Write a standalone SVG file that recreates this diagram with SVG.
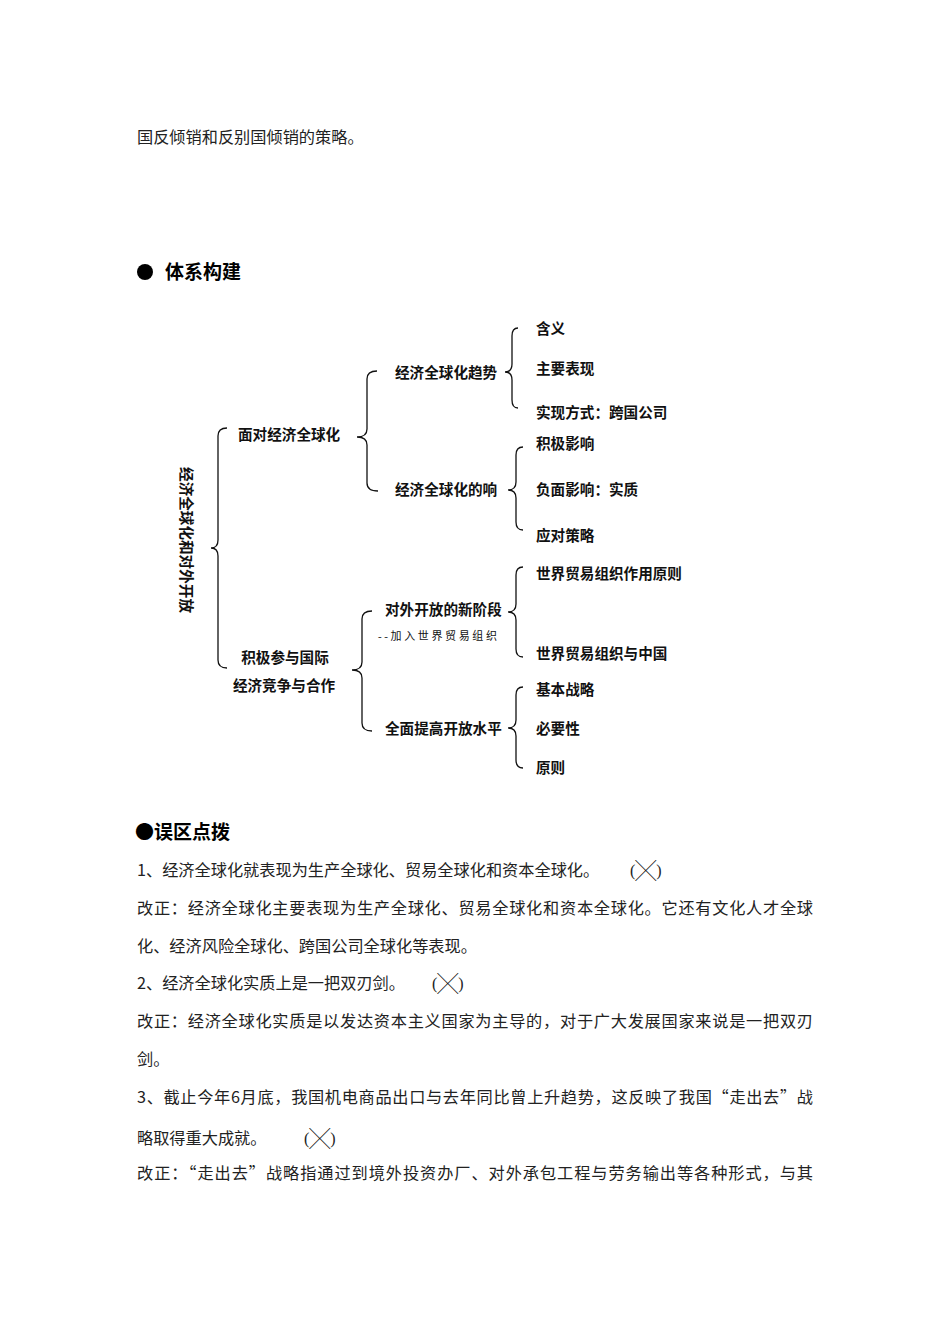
<svg xmlns="http://www.w3.org/2000/svg" width="950" height="1344" viewBox="0 0 950 1344">
<style>
.body{font-family:"Noto Sans CJK SC","Liberation Serif",serif;font-size:16.2px;fill:#222}
.head{font-family:"Noto Sans CJK SC","Liberation Sans",sans-serif;font-size:19px;font-weight:bold;fill:#000}
.lbl{font-family:"Liberation Sans","Noto Sans CJK SC",sans-serif;font-size:14.6px;font-weight:bold;fill:#111}
.sub{font-family:"Liberation Serif","Noto Sans CJK SC",serif;font-size:11px;fill:#111}
.br{fill:none;stroke:#111;stroke-width:1.3}
.par{font-family:"Liberation Serif",serif;font-size:16px;fill:#222}
.x{font-family:"Noto Sans CJK SC",sans-serif;font-size:21px;fill:#111}
</style>
<rect width="950" height="1344" fill="#fff"/>
<text class="body" x="137" y="143">国反倾销和反别国倾销的策略。</text>
<circle cx="145" cy="272" r="8" fill="#000"/>
<text class="head" x="165" y="279">体系构建</text>

<g id="connectors">
<path class="br" d="M227,428 Q218,428 218,436 L218,540 Q218,548 211,548 Q218,548 218,556 L218,660 Q218,668 227,668"/>
<path class="br" d="M377,371 Q367,371 367,379 L367,429 Q367,437 357,437 Q367,437 367,445 L367,483 Q367,491 378,491"/>
<path class="br" d="M518,328 Q512,328 512,336 L512,364 Q512,372 505,372 Q512,372 512,380 L512,400 Q512,408 518,408"/>
<path class="br" d="M523,447 Q516,447 516,455 L516,482 Q516,490 508,490 Q516,490 516,498 L516,522 Q516,530 523,530"/>
<path class="br" d="M372,611 Q362,611 362,619 L362,662 Q362,670 352,670 Q362,670 362,678 L362,723 Q362,731 372,731"/>
<path class="br" d="M523,567 Q516,567 516,575 L516,604 Q516,612 508,612 Q516,612 516,620 L516,649 Q516,657 523,657"/>
<path class="br" d="M523,687 Q516,687 516,695 L516,720 Q516,728 508,728 Q516,728 516,736 L516,760 Q516,768 523,768"/>
</g>

<g id="root"><text class="lbl" transform="translate(186,540) rotate(90)" text-anchor="middle" y="5.5">经济全球化和对外开放</text></g>
<g id="n-face"><text class="lbl" x="238" y="439.5">面对经济全球化</text></g>
<g id="n-part"><text class="lbl" x="285" y="662.5" text-anchor="middle">积极参与国际</text><text class="lbl" x="284" y="690.5" text-anchor="middle">经济竞争与合作</text></g>
<g id="n-trend"><text class="lbl" x="395" y="377.5">经济全球化趋势</text></g>
<g id="n-effect"><text class="lbl" x="395" y="494.5">经济全球化的响</text></g>
<g id="n-stage"><text class="lbl" x="385" y="614.5">对外开放的新阶段</text><text class="sub" x="378" y="640" textLength="119" lengthAdjust="spacing">--加入世界贸易组织</text></g>
<g id="n-level"><text class="lbl" x="385" y="733.5">全面提高开放水平</text></g>
<g id="l1"><text class="lbl" x="536" y="333.5">含义</text></g>
<g id="l2"><text class="lbl" x="536" y="373.5">主要表现</text></g>
<g id="l3"><text class="lbl" x="536" y="417.5">实现方式：跨国公司</text></g>
<g id="l4"><text class="lbl" x="536" y="448.5">积极影响</text></g>
<g id="l5"><text class="lbl" x="536" y="494.5">负面影响：实质</text></g>
<g id="l6"><text class="lbl" x="536" y="540.5">应对策略</text></g>
<g id="l7"><text class="lbl" x="536" y="578.5">世界贸易组织作用原则</text></g>
<g id="l8"><text class="lbl" x="536" y="658.5">世界贸易组织与中国</text></g>
<g id="l9"><text class="lbl" x="536" y="694.5">基本战略</text></g>
<g id="l10"><text class="lbl" x="536" y="733.5">必要性</text></g>
<g id="l11"><text class="lbl" x="536" y="772.5">原则</text></g>

<text class="head" x="135" y="839">●误区点拨</text>
<text class="body" x="137" y="876">1、经济全球化就表现为生产全球化、贸易全球化和资本全球化。</text>
<text class="par" x="630" y="876">(<tspan class="x" dy="2">╳</tspan><tspan dy="-2">)</tspan></text>
<text class="body" x="137" y="914" textLength="676" lengthAdjust="spacing">改正：经济全球化主要表现为生产全球化、贸易全球化和资本全球化。它还有文化人才全球</text>
<text class="body" x="137" y="952">化、经济风险全球化、跨国公司全球化等表现。</text>
<text class="body" x="137" y="989">2、经济全球化实质上是一把双刃剑。</text>
<text class="par" x="432" y="989">(<tspan class="x" dy="2">╳</tspan><tspan dy="-2">)</tspan></text>
<text class="body" x="137" y="1027" textLength="676" lengthAdjust="spacing">改正：经济全球化实质是以发达资本主义国家为主导的，对于广大发展国家来说是一把双刃</text>
<text class="body" x="137" y="1065">剑。</text>
<text class="body" x="137" y="1103" textLength="676" lengthAdjust="spacing">3、截止今年6月底，我国机电商品出口与去年同比曾上升趋势，这反映了我国“走出去”战</text>
<text class="body" x="137" y="1144">略取得重大成就。</text>
<text class="par" x="304" y="1144">(<tspan class="x" dy="2">╳</tspan><tspan dy="-2">)</tspan></text>
<text class="body" x="137" y="1179" textLength="676" lengthAdjust="spacing">改正：“走出去”战略指通过到境外投资办厂、对外承包工程与劳务输出等各种形式，与其</text>
</svg>
